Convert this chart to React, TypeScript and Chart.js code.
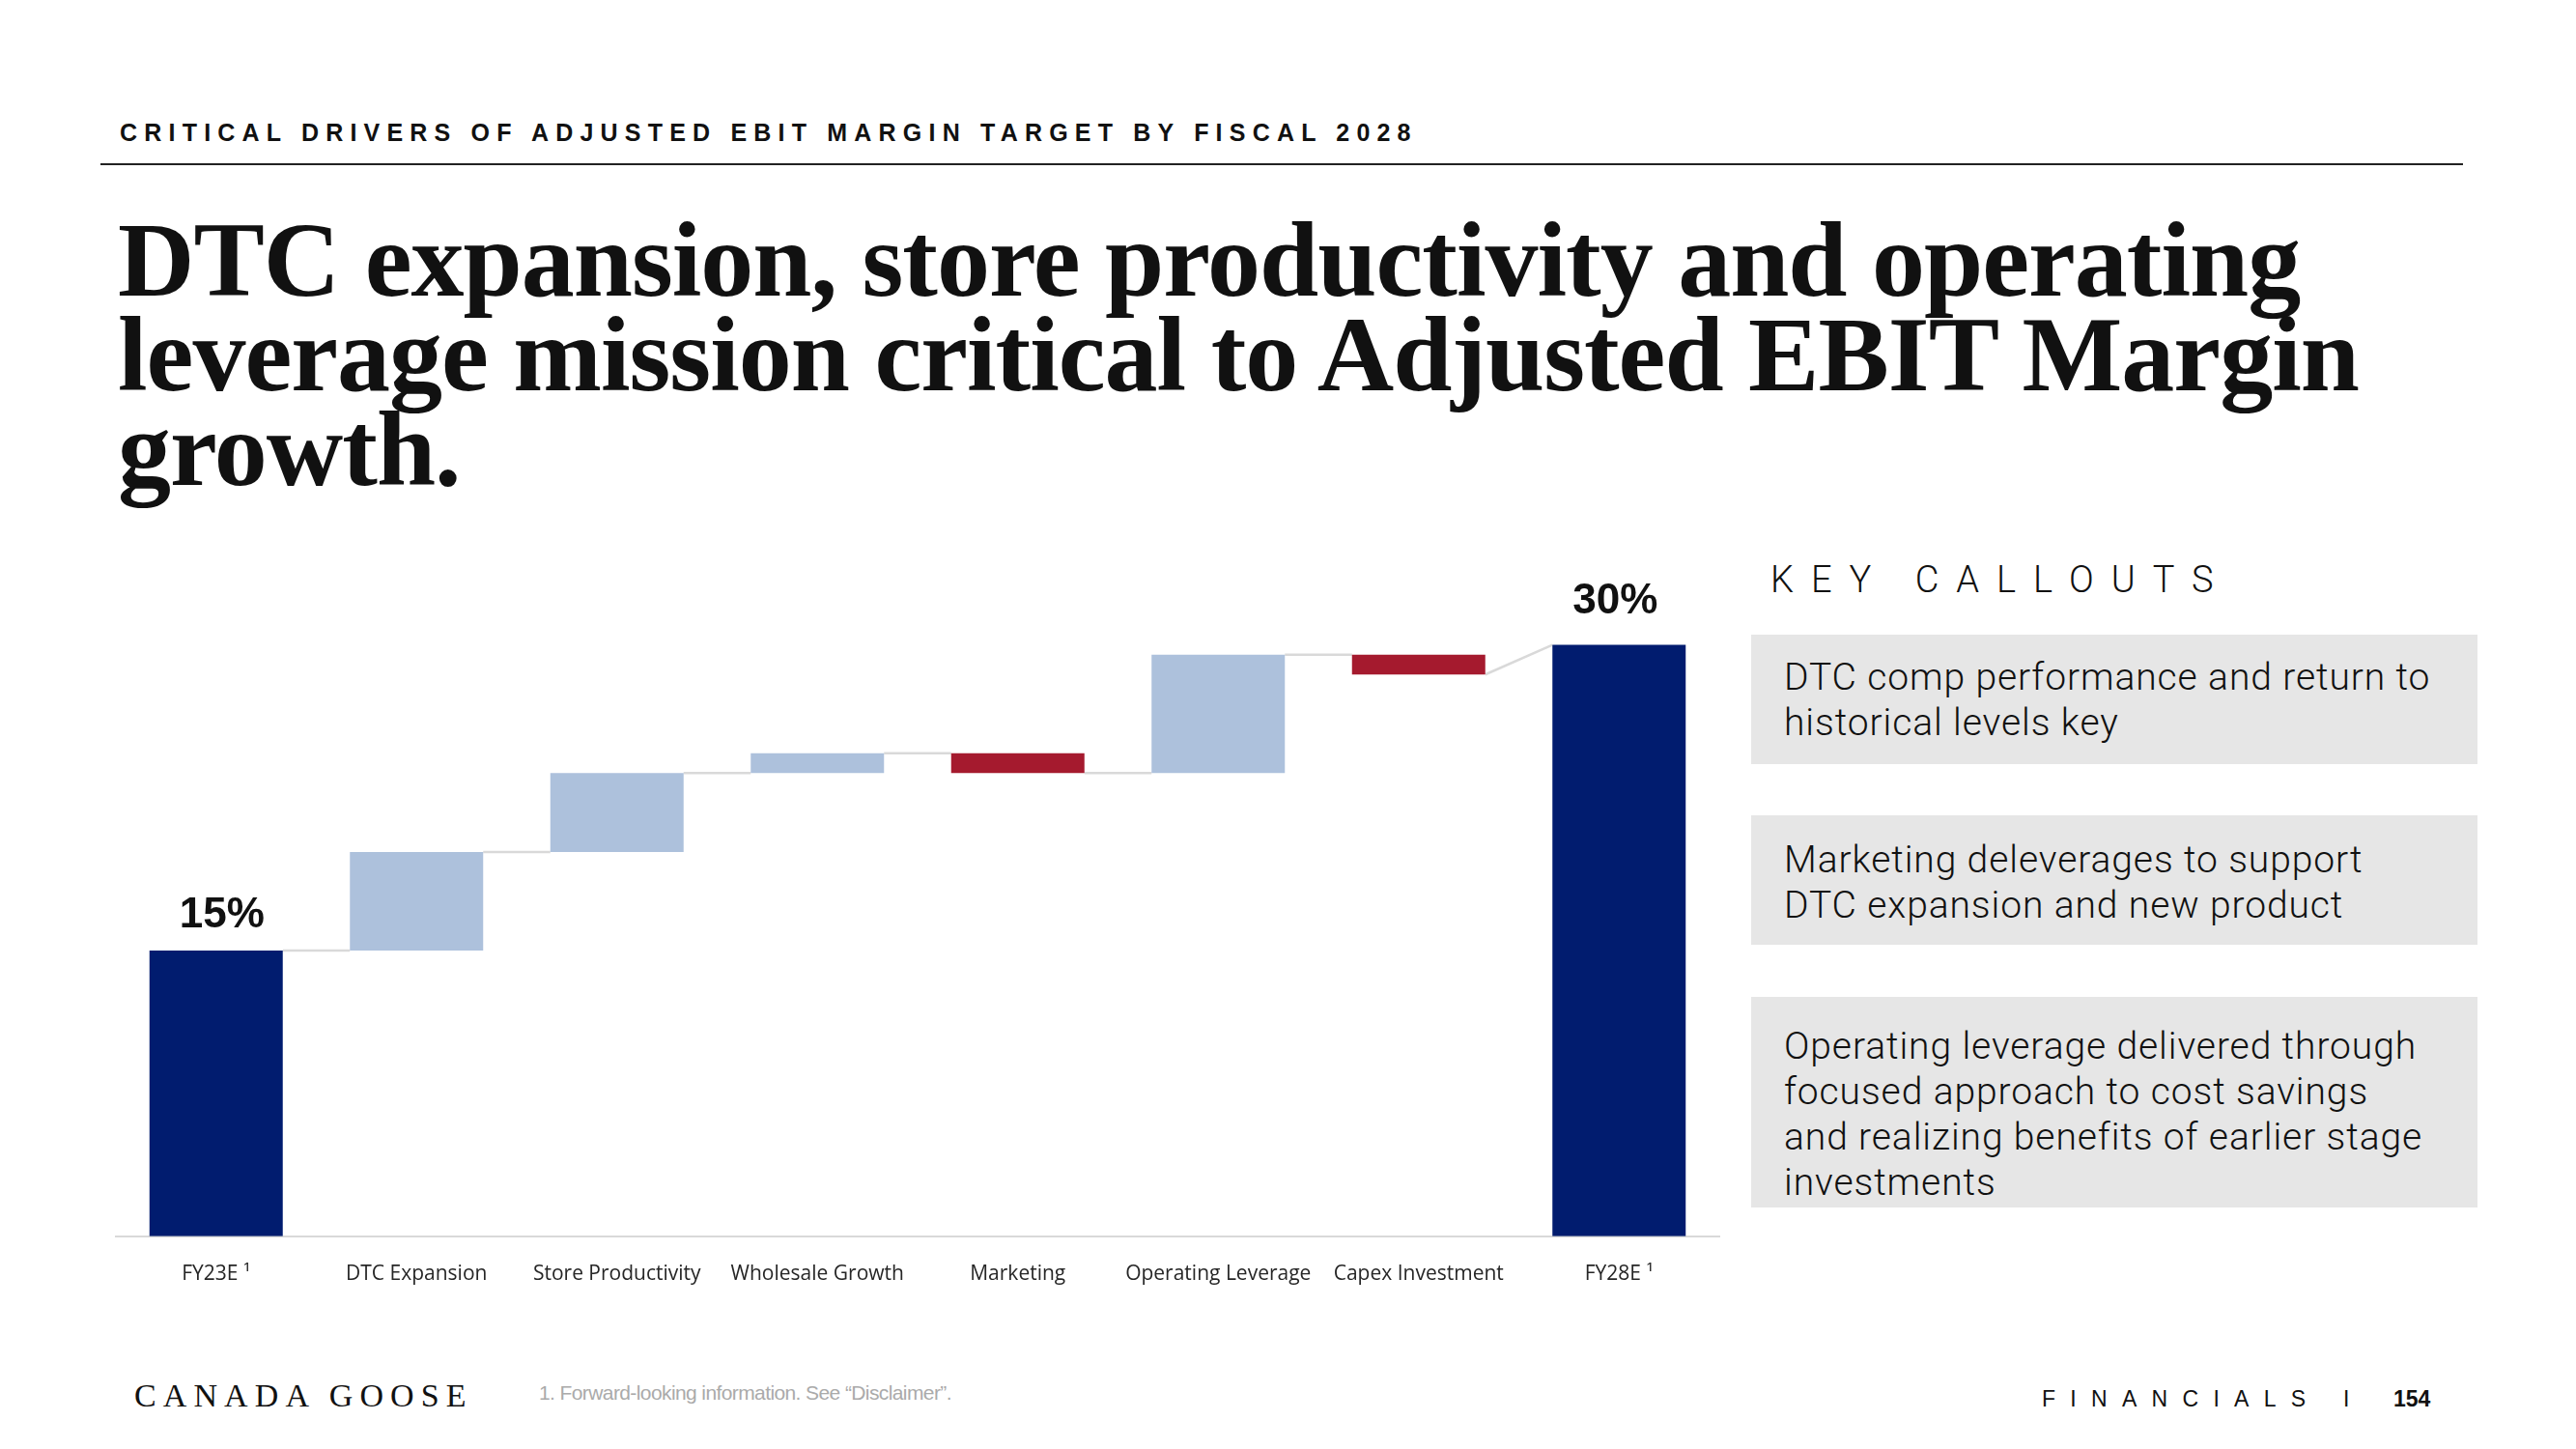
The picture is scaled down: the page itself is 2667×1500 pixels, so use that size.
import React, { useEffect, useRef } from "react";
import { Chart, registerables } from "chart.js";

Chart.register(...registerables);

// ---- Data ----
const categories = [
  "FY23E ¹",
  "DTC Expansion",
  "Store Productivity",
  "Wholesale Growth",
  "Marketing",
  "Operating Leverage",
  "Capex Investment",
  "FY28E ¹",
];
const startValue = 14.5;
const driverDeltas = [5, 4, 1, -1, 6, -1];
const endValue = 30;
const totalLabels = ["15%", "30%"];

const headerText = "CRITICAL DRIVERS OF ADJUSTED EBIT MARGIN TARGET BY FISCAL 2028";
const titleLines = [
  "DTC expansion, store productivity and operating",
  "leverage mission critical to Adjusted EBIT Margin",
  "growth.",
];
const calloutTitle = "KEY CALLOUTS";
const callouts = [
  ["DTC comp performance and return to", "historical levels key"],
  ["Marketing deleverages to support", "DTC expansion and new product"],
  [
    "Operating leverage delivered through",
    "focused approach to cost savings",
    "and realizing benefits of earlier stage",
    "investments",
  ],
];
const footnote = "1. Forward-looking information. See \u201CDisclaimer\u201D.";

// ---- Colours ----
const NAVY = "#011c6f";
const UP = "#adc1dc";
const DOWN = "#a51a2e";

// ---- Derived waterfall table ----
const ranges: [number, number][] = [];
const colors: string[] = [];
const inLevels: number[] = [];
const outLevels: number[] = [];
ranges.push([0, startValue]);
colors.push(NAVY);
inLevels.push(startValue);
outLevels.push(startValue);
let cum = startValue;
for (const d of driverDeltas) {
  const next = cum + d;
  ranges.push([Math.min(cum, next), Math.max(cum, next)]);
  colors.push(d >= 0 ? UP : DOWN);
  inLevels.push(cum);
  outLevels.push(next);
  cum = next;
}
ranges.push([0, endValue]);
colors.push(NAVY);
inLevels.push(endValue);
outLevels.push(endValue);

const waterfallPlugin = {
  id: "waterfallDecor",
  beforeDatasetsDraw(chart: any) {
    const ctx = chart.ctx;
    const meta = chart.getDatasetMeta(0);
    const y = chart.scales.y;
    ctx.save();
    ctx.strokeStyle = "#d9d9d9";
    ctx.lineWidth = 2.5;
    for (let i = 0; i < meta.data.length - 1; i++) {
      const a: any = meta.data[i];
      const b: any = meta.data[i + 1];
      ctx.beginPath();
      ctx.moveTo(a.x + a.width / 2, y.getPixelForValue(outLevels[i]));
      ctx.lineTo(b.x - b.width / 2, y.getPixelForValue(inLevels[i + 1]));
      ctx.stroke();
    }
    ctx.restore();
  },
  afterDatasetsDraw(chart: any) {
    const ctx = chart.ctx;
    const meta = chart.getDatasetMeta(0);
    const y = chart.scales.y;
    const first: any = meta.data[0];
    const last: any = meta.data[meta.data.length - 1];
    ctx.save();
    ctx.fillStyle = "#111111";
    ctx.font = "bold 44px 'Liberation Sans', Arial, sans-serif";
    ctx.textAlign = "center";
    ctx.textBaseline = "alphabetic";
    ctx.fillText(totalLabels[0], first.x + 6, y.getPixelForValue(startValue) - 24);
    ctx.fillText(totalLabels[1], last.x - 4, y.getPixelForValue(endValue) - 33);
    ctx.restore();
  },
};

function WaterfallChart() {
  const ref = useRef<HTMLCanvasElement | null>(null);
  useEffect(() => {
    if (!ref.current) return;
    const chart = new Chart(ref.current, {
      type: "bar",
      data: {
        labels: categories,
        datasets: [
          {
            data: ranges as any,
            backgroundColor: colors,
            borderWidth: 0,
            barPercentage: 0.665,
            categoryPercentage: 1,
          },
        ],
      },
      options: {
        animation: false,
        responsive: false,
        maintainAspectRatio: false,
        layout: { padding: { left: 20, right: 20, top: 26, bottom: 23 } },
        plugins: {
          legend: { display: false },
          tooltip: { enabled: false },
        },
        scales: {
          x: {
            grid: { display: false, drawTicks: false },
            border: { display: true, color: "#d9d9d9", width: 2 },
            ticks: {
              color: "#262626",
              font: { family: "'Open Sans', sans-serif", size: 21 },
              padding: 27,
              maxRotation: 0,
              autoSkip: false,
            },
          },
          y: { display: false, min: 0, max: 34 },
        },
      },
      plugins: [waterfallPlugin],
    });
    return () => chart.destroy();
  }, []);
  return <canvas ref={ref} width={1700} height={822} style={{ display: "block", width: 1700, height: 822 }} />;
}

const abs = (s: React.CSSProperties): React.CSSProperties => ({ position: "absolute", margin: 0, whiteSpace: "nowrap", ...s });

const calloutBoxes = [
  { top: 657, height: 134, pad: 21 },
  { top: 844, height: 134, pad: 23 },
  { top: 1032, height: 218, pad: 28 },
];

export default function App() {
  return (
    <div style={{ position: "absolute", left: 0, top: 0, width: 2667, height: 1500, background: "#ffffff", overflow: "hidden" }}>
      <div
        style={abs({
          left: 124,
          top: 125,
          fontFamily: "'Liberation Sans', Arial, sans-serif",
          fontWeight: 700,
          fontSize: 25,
          lineHeight: "25px",
          letterSpacing: 7.2,
          color: "#111",
        })}
      >
        {headerText}
      </div>
      <div style={abs({ left: 104, top: 169, width: 2446, height: 2, background: "#222" })} />
      <div
        style={abs({
          left: 122,
          top: 220,
          fontFamily: "'Liberation Serif', 'Times New Roman', serif",
          fontWeight: 700,
          fontSize: 110,
          lineHeight: "98px",
          letterSpacing: -1,
          color: "#111",
        })}
      >
        {titleLines.map((l, i) => (
          <div key={i}>{l}</div>
        ))}
      </div>

      <div style={abs({ left: 100, top: 560 })}>
        <WaterfallChart />
      </div>

      <div
        style={abs({
          left: 1833,
          top: 581,
          fontFamily: "Roboto, sans-serif",
          fontWeight: 300,
          fontSize: 38,
          lineHeight: "38px",
          letterSpacing: 18,
          color: "#111",
        })}
      >
        {calloutTitle}
      </div>

      {callouts.map((lines, i) => (
        <div
          key={i}
          style={abs({
            left: 1813,
            top: calloutBoxes[i].top,
            width: 752,
            height: calloutBoxes[i].height,
            background: "#e6e6e6",
            boxSizing: "border-box",
            paddingLeft: 34,
            paddingTop: calloutBoxes[i].pad,
            fontFamily: "Roboto, sans-serif",
            fontWeight: 300,
            fontSize: 39,
            lineHeight: "47px",
            letterSpacing: 0.9,
            color: "#111",
          })}
        >
          {lines.map((l, j) => (
            <div key={j}>{l}</div>
          ))}
        </div>
      ))}

      <div
        style={abs({
          left: 139,
          top: 1428,
          fontFamily: "'Liberation Serif', 'Times New Roman', serif",
          fontSize: 34,
          lineHeight: "34px",
          letterSpacing: 7.1,
          color: "#111",
        })}
      >
        CANADA GOOSE
      </div>
      <div
        style={abs({
          left: 558,
          top: 1431,
          fontFamily: "'Liberation Sans', Arial, sans-serif",
          fontSize: 21,
          lineHeight: "21px",
          letterSpacing: -0.6,
          color: "#aaaaaa",
        })}
      >
        {footnote}
      </div>
      <div
        style={abs({
          left: 2114,
          top: 1437,
          fontFamily: "'Liberation Sans', Arial, sans-serif",
          fontSize: 23,
          lineHeight: "23px",
          letterSpacing: 15.3,
          color: "#111",
        })}
      >
        FINANCIALS
      </div>
      <div
        style={abs({
          left: 2426,
          top: 1437,
          fontFamily: "'Liberation Sans', Arial, sans-serif",
          fontSize: 23,
          lineHeight: "23px",
          color: "#111",
        })}
      >
        I
      </div>
      <div
        style={abs({
          left: 2478,
          top: 1437,
          fontFamily: "'Liberation Sans', Arial, sans-serif",
          fontWeight: 700,
          fontSize: 23,
          lineHeight: "23px",
          color: "#111",
        })}
      >
        154
      </div>
    </div>
  );
}
